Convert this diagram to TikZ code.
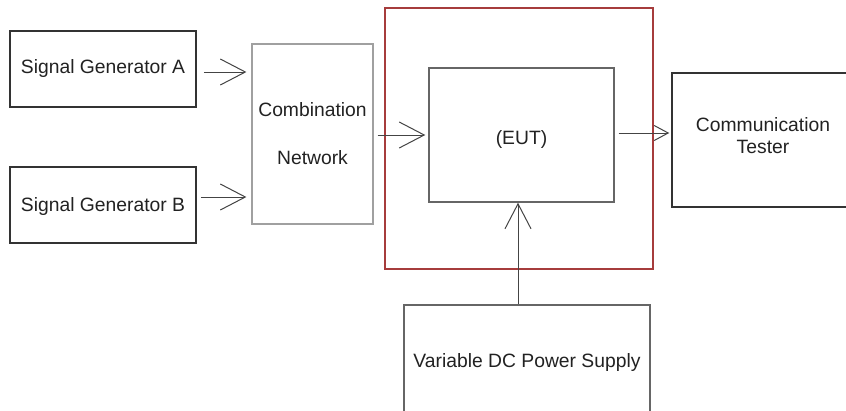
\documentclass[tikz,border=0pt]{standalone}
\usepackage{fontspec}
\setmainfont{Liberation Sans}
\usetikzlibrary{arrows.meta}
\definecolor{boxdark}{HTML}{333333}
\definecolor{boxgray}{HTML}{666666}
\definecolor{boxlight}{HTML}{A0A0A0}
\definecolor{shieldred}{HTML}{A63C3C}
\definecolor{wire}{HTML}{444444}
\definecolor{ink}{HTML}{222222}
\begin{document}
\begin{tikzpicture}[x=1pt,y=-1pt,
  every node/.style={font=\fontsize{19.3}{22}\selectfont, text=ink, inner sep=0pt, align=center},
  block/.style={draw=boxdark, line width=1.5pt},
  lightblock/.style={draw=boxlight, line width=1.2pt},
  grayblock/.style={draw=boxgray, line width=1.4pt},
  shield/.style={draw=shieldred, line width=1.6pt},
  caption/.style={label={[align=center,yshift=#1]center:}},
  bigarrow/.style={draw=wire, line width=1pt, -{Straight Barb[length=25pt,width=26pt]}},
  smallarrow/.style={draw=wire, line width=1pt, -{Straight Barb[length=14pt,width=15pt]}}]
\useasboundingbox (0,0) rectangle (846,410);
\clip (0,0) rectangle (846,410);
\fill[white] (0,0) rectangle (846,410);

% shielded enclosure around the equipment under test
\node[shield, minimum width=268pt, minimum height=261pt] (encl) at (519,138.5) {};

% signal sources
\node[block, minimum width=186pt, minimum height=76pt] (sga) at (103,69) {Signal Generator A};
\node[block, minimum width=186pt, minimum height=76pt,
      label={[yshift=-2pt]center:Signal Generator B}] (sgb) at (103,205) {};

% combiner
\node[lightblock, minimum width=121pt, minimum height=180pt] (comb) at (312.5,134)
  {Combination\\[26pt]Network};

% equipment under test
\node[grayblock, minimum width=185pt, minimum height=134pt,
      label={[yshift=-5pt]center:(EUT)}] (eut) at (521.5,135) {};

% tester
\node[block, minimum width=182pt, minimum height=134pt,
      label={[align=center,yshift=4pt]center:Communication\\Tester}] (tester) at (763,140) {};

% supply (runs past the lower edge)
\node[draw=boxgray, line width=1.3pt, minimum width=246pt, minimum height=110pt,
      label={[yshift=-3pt]center:Variable DC Power Supply}] (pwr) at (527,360) {};

% connections
\draw[bigarrow] ([xshift=7pt,yshift=-3pt]sga.east) -- ([xshift=-5pt,yshift=62pt]comb.west);
\draw[bigarrow] ([xshift=4pt,yshift=8pt]sgb.east) -- ([xshift=-5pt,yshift=-63pt]comb.west);
\draw[bigarrow] ([xshift=4pt,yshift=-1pt]comb.east) -- ([xshift=-3pt]eut.west);
\draw[smallarrow] ([xshift=4pt,yshift=2pt]eut.east) -- ([xshift=-2pt,yshift=7pt]tester.west);
\draw[bigarrow] ([xshift=-9pt]pwr.north) -- ([xshift=-3.5pt]eut.south);
\end{tikzpicture}
\end{document}
